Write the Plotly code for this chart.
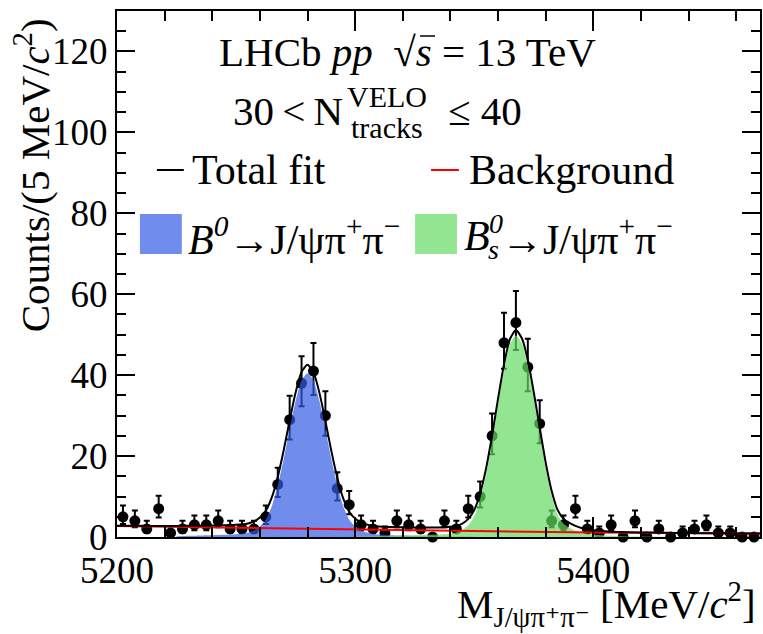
import numpy as np
import plotly.graph_objects as go

# ---------------- data ----------------
BIN_CENTERS = [5202.5, 5207.5, 5212.5, 5217.5, 5222.5, 5227.5, 5232.5, 5237.5, 5242.5, 5247.5,
               5252.5, 5257.5, 5262.5, 5267.5, 5272.5, 5277.5, 5282.5, 5287.5, 5292.5, 5297.5,
               5302.5, 5307.5, 5312.5, 5317.5, 5322.5, 5327.5, 5332.5, 5337.5, 5342.5, 5347.5,
               5352.5, 5357.5, 5362.5, 5367.5, 5372.5, 5377.5, 5382.5, 5387.5, 5392.5, 5397.5,
               5402.5, 5407.5, 5412.5, 5417.5, 5422.5, 5427.5, 5432.5, 5437.5, 5442.5, 5447.5,
               5452.5, 5457.5, 5462.5, 5467.5]
COUNTS = [5, 4, 2, 7, 1, 2, 3, 3, 4, 2,
          2, 2, 5, 13, 29, 38, 41, 30, 12, 8,
          3, 2, 1, 4, 3, 2, 0, 4, 2, 7,
          10, 25, 48, 53, 42, 28, 4, 3, 7, 2,
          1, 3, 0, 4, 0, 2, 0, 1, 2, 3,
          1, 1, 0, 0]

TOT_X = [5200, 5210, 5220, 5230, 5240, 5245, 5250, 5255,
         5257.5, 5260, 5262.5, 5265, 5267.5, 5270, 5272.5, 5275, 5277.5, 5280, 5282.5, 5285,
         5287.5, 5290, 5292.5, 5295, 5297.5, 5300, 5302.5, 5305,
         5310, 5315, 5320, 5325, 5330, 5335, 5340,
         5342.5, 5345, 5347.5, 5350, 5352.5, 5355, 5357.5, 5360, 5362.5, 5365, 5367.5,
         5370, 5372.5, 5375, 5377.5, 5380, 5382.5, 5385, 5387.5, 5390, 5392.5, 5395,
         5400, 5405, 5410, 5420, 5430, 5440, 5450, 5460, 5470]
TOT_Y = [2.8, 2.75, 2.7, 2.76, 2.83, 2.89, 3.0, 3.36,
         3.83, 4.81, 6.49, 9.77, 14.85, 21.44, 28.82, 35.7, 40.78, 42.56, 40.74, 35.62,
         28.7, 21.28, 14.66, 9.54, 6.22, 4.55, 3.55, 3.06,
         2.57, 2.46, 2.39, 2.37, 2.36, 2.37, 2.53,
         2.75, 3.31, 4.48, 6.65, 10.83, 17.01, 25.1, 34.18, 42.66, 48.94, 51.13,
         49.11, 43.79, 35.77, 27.06, 18.44, 11.42, 6.7, 4.49, 3.47, 2.75, 2.23,
         1.7, 1.43, 1.26, 1.13, 1.04, 0.96, 0.92, 0.89, 0.85]

BKG_X = [5200, 5250, 5300, 5350, 5400, 5470]
BKG_Y = [2.7, 2.3, 1.85, 1.45, 1.1, 0.85]

B0_X = [5225, 5230, 5235, 5240, 5245, 5250, 5255,
        5257.5, 5260, 5262.5, 5265, 5267.5, 5270, 5272.5, 5275, 5277.5, 5280,
        5282.5, 5285, 5287.5, 5290, 5292.5, 5295, 5297.5, 5300,
        5302.5, 5305, 5310, 5315, 5320, 5330, 5340, 5350]
B0_Y = [0.2, 0.3, 0.4, 0.45, 0.55, 0.7, 1.1,
        1.6, 2.6, 4.3, 7.6, 12.7, 19.3, 26.7, 33.6, 38.7, 40.5,
        38.7, 33.6, 26.7, 19.3, 12.7, 7.6, 4.3, 2.6,
        1.6, 1.1, 0.6, 0.45, 0.35, 0.25, 0.15, 0.1]

BS_X = [5300, 5310, 5320, 5330, 5335, 5340, 5342.5, 5345,
        5347.5, 5350, 5352.5, 5355, 5357.5, 5360, 5362.5, 5365, 5367.5,
        5370, 5372.5, 5375, 5377.5, 5380, 5382.5, 5385, 5387.5, 5390, 5392.5, 5395,
        5400, 5405, 5410, 5420, 5430]
BS_Y = [0.1, 0.2, 0.35, 0.5, 0.6, 0.85, 1.1, 1.7,
        2.9, 5.1, 9.4, 15.6, 23.7, 32.8, 41.3, 47.6, 49.8,
        47.8, 42.5, 34.5, 25.8, 17.2, 10.2, 5.5, 3.3, 2.3, 1.6, 1.1,
        0.6, 0.35, 0.2, 0.1, 0.05]

X_TICKS = [5200, 5300, 5400]
Y_TICKS = [0, 20, 40, 60, 80, 100, 120]

# Poisson-like asymmetric errors from the counts
n = np.array(COUNTS, dtype=float)
err_hi = np.where(n > 0, np.sqrt(n + 0.25) + 0.5, 0.0)
err_lo = np.where(n > 0, np.sqrt(n + 0.25) - 0.5, 0.0)

FONT = '"Liberation Serif", "DejaVu Serif", serif'
BLUE = "rgba(51,92,230,0.7)"
GREEN = "rgba(100,220,100,0.7)"

fig = go.Figure()

fig.add_trace(go.Scatter(
    x=BIN_CENTERS, y=COUNTS, mode="markers",
    marker=dict(color="black", size=11),
    error_y=dict(type="data", symmetric=False, array=err_hi, arrayminus=err_lo,
                 color="black", thickness=2, width=3),
    cliponaxis=False, showlegend=False))

fig.add_trace(go.Scatter(
    x=B0_X, y=B0_Y, mode="lines", fill="tozeroy", fillcolor=BLUE,
    line=dict(width=0, shape="spline", smoothing=0.6), showlegend=False))
fig.add_trace(go.Scatter(
    x=BS_X, y=BS_Y, mode="lines", fill="tozeroy", fillcolor=GREEN,
    line=dict(width=0, shape="spline", smoothing=0.6), showlegend=False))

fig.add_trace(go.Scatter(
    x=BKG_X, y=BKG_Y, mode="lines",
    line=dict(color="#ff0000", width=2), showlegend=False))
fig.add_trace(go.Scatter(
    x=TOT_X, y=TOT_Y, mode="lines",
    line=dict(color="black", width=2, shape="spline", smoothing=0.6), showlegend=False))

# ---------------- layout ----------------
L, R, T, B = 117, 1, 11, 97
W, H = 763, 634
PW, PH = W - L - R, H - T - B


def px(xp):
    return (xp - L) / PW


def py(yp):
    return (H - B - yp) / PH


fig.update_layout(
    width=W, height=H,
    margin=dict(l=L, r=R, t=T, b=B),
    paper_bgcolor="white", plot_bgcolor="white",
    font=dict(family=FONT, color="black", size=36),
    xaxis=dict(range=[5200, 5470], tickvals=X_TICKS, ticks="inside", ticklen=20,
               tickwidth=2, tickcolor="black", showline=True, linewidth=2,
               linecolor="black", mirror="ticks", showgrid=False, zeroline=False,
               tickfont=dict(size=37, family=FONT),
               minor=dict(dtick=20, tick0=5200, ticks="inside", ticklen=10,
                          tickwidth=2, tickcolor="black", showgrid=False)),
    yaxis=dict(range=[0, 130], tickvals=Y_TICKS, ticks="inside", ticklen=18,
               tickwidth=2, tickcolor="black", showline=True, linewidth=2,
               linecolor="black", mirror="ticks", showgrid=False, zeroline=False,
               tickfont=dict(size=37, family=FONT),
               minor=dict(dtick=5, tick0=0, ticks="inside", ticklen=9,
                          tickwidth=2, tickcolor="black", showgrid=False)),
)

ann = []
shapes = []


def text(s, x, y, size=40, xanchor="left", yanchor="middle", angle=0):
    ann.append(dict(text=s, x=x, y=y, xref="paper", yref="paper", showarrow=False,
                    xanchor=xanchor, yanchor=yanchor, textangle=angle,
                    font=dict(family=FONT, size=size, color="black")))


# header
text("LHCb <i>pp</i>  √<i>s</i> = 13 TeV", px(408), py(52), 41, "center")
shapes.append(dict(type="line", xref="paper", yref="paper",
                   x0=px(421), x1=px(436), y0=py(36), y1=py(36),
                   line=dict(color="black", width=1.5)))
text("30\u2009&lt;\u2009N", px(346), py(111), 41, "right")
text("VELO", px(346), py(96), 30, "left")
text("tracks", px(350), py(128), 30, "left")
text("≤ 40", px(447), py(111), 41, "left")

# legend row 1
shapes.append(dict(type="line", xref="paper", yref="paper",
                   x0=px(157), x1=px(184), y0=py(170), y1=py(170),
                   line=dict(color="black", width=2)))
text("Total fit", px(190), py(170), 42)
shapes.append(dict(type="line", xref="paper", yref="paper",
                   x0=px(432), x1=px(460), y0=py(170), y1=py(170),
                   line=dict(color="#ff0000", width=2)))
text("Background", px(468), py(170), 42)

# legend row 2
shapes.append(dict(type="rect", xref="paper", yref="paper",
                   x0=px(140), x1=px(182), y0=py(254), y1=py(214),
                   fillcolor=BLUE, line=dict(width=0)))
text("<i>B</i><sup><i>0</i></sup>→J/ψπ<sup>+</sup>π<sup>−</sup>", px(186), py(236), 42)
shapes.append(dict(type="rect", xref="paper", yref="paper",
                   x0=px(416), x1=px(458), y0=py(254), y1=py(214),
                   fillcolor=GREEN, line=dict(width=0)))
text("<i>B</i>", px(463), py(236), 42)
text("<i>0</i>", px(488), py(224), 28)
text("<i>s</i>", px(487), py(249), 28)
text("→J/ψπ<sup>+</sup>π<sup>−</sup>", px(500), py(236), 42)

# axis titles
text("Counts/(5 MeV/<i>c</i><sup>2</sup>)", px(32), py(175), 41, "center", "middle", -90)
text("M<sub>J/ψπ⁺π⁻</sub> [MeV/<i>c</i><sup>2</sup>]", px(760), py(604), 41, "right", "middle")

fig.update_layout(annotations=ann, shapes=shapes)

fig.write_html("out.html")
